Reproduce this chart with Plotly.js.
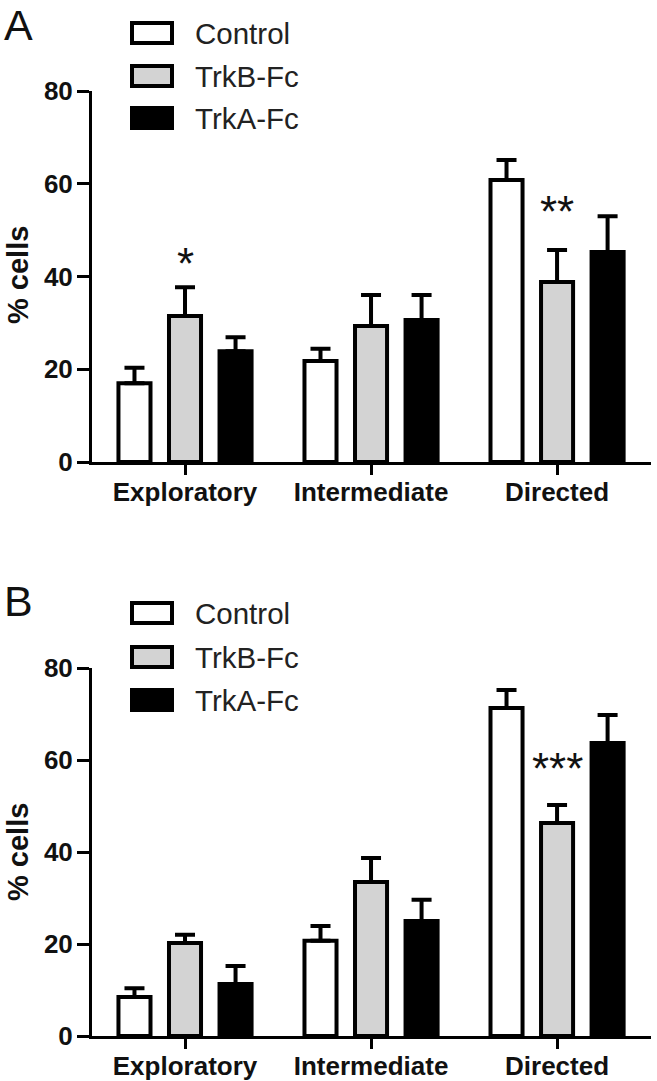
<!DOCTYPE html>
<html>
<head>
<meta charset="utf-8">
<script src="https://cdn.plot.ly/plotly-3.0.1.min.js"></script>
<style>html,body{margin:0;padding:0;background:#fff;}#chart{width:657px;height:1081px;}</style>
</head>
<body>
<div id="chart"></div>
<script>
// ---- data ----
const categories = ["Exploratory", "Intermediate", "Directed"];
const seriesNames = ["Control", "TrkB-Fc", "TrkA-Fc"];

// Panel A
const A_control = [17.0, 21.8, 60.8];
const A_control_err = [3.3, 2.6, 4.3];
const A_trkb = [31.5, 29.3, 38.8];
const A_trkb_err = [6.2, 6.7, 6.9];
const A_trka = [23.9, 30.6, 45.3];
const A_trka_err = [3.0, 5.4, 7.7];

// Panel B
const B_control = [8.5, 20.7, 71.3];
const B_control_err = [1.9, 3.2, 3.9];
const B_trkb = [20.2, 33.5, 46.3];
const B_trkb_err = [1.8, 5.2, 3.9];
const B_trka = [11.3, 25.0, 63.7];
const B_trka_err = [3.9, 4.6, 6.1];

// significance marks: [category, y position, label]
const A_sig = [["Exploratory", 42.8, "*"], ["Directed", 54.0, "**"]];
const B_sig = [["Directed", 58.2, "***"]];

const yTicks = [0, 20, 40, 60, 80];
const panelLabels = ["A", "B"];
const yTitle = "% cells";

// ---- styling ----
const W = 657, H = 1081;
const fills = ["#ffffff", "#d3d3d3", "#000000"];
const px = x => x / W;
const py = y => 1 - y / H;
const font = "Liberation Sans, Arial, sans-serif";

function makeTraces(vals, errs, xa, ya) {
  return vals.map((v, i) => ({
    type: "bar",
    x: categories,
    y: v,
    name: seriesNames[i],
    xaxis: xa, yaxis: ya,
    showlegend: false,
    marker: {color: fills[i], line: {color: "#000", width: 4}},
    error_y: {type: "data", symmetric: false, array: errs[i],
              arrayminus: errs[i].map(() => 0),
              color: "#000", thickness: 4, width: 10}
  }));
}

const traces = [
  ...makeTraces([A_control, A_trkb, A_trka], [A_control_err, A_trkb_err, A_trka_err], "x", "y"),
  ...makeTraces([B_control, B_trkb, B_trka], [B_control_err, B_trkb_err, B_trka_err], "x2", "y2")
];

function xaxisDef(anchor) {
  return {
    domain: [px(92), px(651)], anchor: anchor,
    range: [-0.5, 2.505], type: "category",
    showline: true, linecolor: "#000", linewidth: 3,
    ticks: "outside", ticklen: 10, tickwidth: 3, tickcolor: "#000",
    ticklabelstandoff: -5,
    showgrid: false, zeroline: false,
    tickfont: {family: font, size: 26, color: "#111", weight: "bold"}
  };
}
function yaxisDef(anchor, top, bottom) {
  return {
    domain: [py(bottom), py(top)], anchor: anchor,
    range: [0, 80], tickvals: yTicks,
    showline: true, linecolor: "#000", linewidth: 3,
    ticks: "outside", ticklen: 12, tickwidth: 3, tickcolor: "#000",
    ticklabelstandoff: -1,
    showgrid: false, zeroline: false,
    tickfont: {family: font, size: 26, color: "#111", weight: "bold"}
  };
}

const shapes = [];
const annotations = [];

function addLegend(rows) {
  rows.forEach((cy, i) => {
    shapes.push({type: "rect", xref: "paper", yref: "paper",
      x0: px(132), x1: px(172), y0: py(cy + 10), y1: py(cy - 10),
      fillcolor: fills[i], line: {color: "#000", width: 4}});
    annotations.push({xref: "paper", yref: "paper", x: px(193), y: py(cy),
      xanchor: "left", yanchor: "middle", showarrow: false,
      text: seriesNames[i], font: {family: font, size: 29.5, color: "#222"}});
  });
}
addLegend([33, 76, 118]);
addLegend([613, 657, 700]);

// panel letters
[[panelLabels[0], 25], [panelLabels[1], 601]].forEach(([t, cy]) => {
  annotations.push({xref: "paper", yref: "paper", x: px(2), y: py(cy),
    xanchor: "left", yanchor: "middle", showarrow: false,
    text: t, font: {family: font, size: 43, color: "#111"}});
});

// y titles
[[275], [852]].forEach(([cy]) => {
  annotations.push({xref: "paper", yref: "paper", x: px(18), y: py(cy),
    xanchor: "center", yanchor: "middle", showarrow: false, textangle: -90,
    text: yTitle, font: {family: font, size: 29, color: "#111", weight: "bold"}});
});

// significance
function addSig(list, xa, ya) {
  list.forEach(([c, y, t]) => {
    annotations.push({xref: xa, yref: ya, x: c, y: y, showarrow: false,
      xanchor: "center", yanchor: "middle",
      text: t, font: {family: font, size: 44, color: "#111"}});
  });
}
addSig(A_sig, "x", "y");
addSig(B_sig, "x2", "y2");

const layout = {
  width: W, height: H,
  margin: {l: 0, r: 0, t: 0, b: 0},
  paper_bgcolor: "#fff", plot_bgcolor: "#fff",
  barmode: "group", bargap: 0.185, bargroupgap: 0.366,
  xaxis: xaxisDef("y"),
  yaxis: yaxisDef("x", 91, 462),
  xaxis2: xaxisDef("y2"),
  yaxis2: yaxisDef("x2", 668, 1036),
  shapes: shapes,
  annotations: annotations,
  showlegend: false
};

Plotly.newPlot("chart", traces, layout, {staticPlot: true});
</script>
</body>
</html>
